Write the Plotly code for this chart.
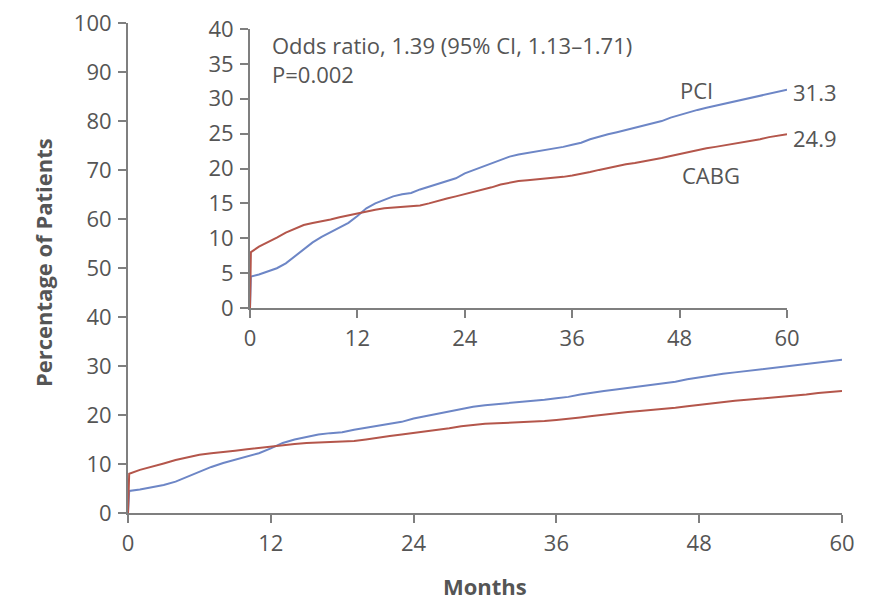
import plotly.graph_objects as go

# ---- data ----
months = [0, 0.1, 1, 2, 3, 4, 5, 6, 7, 8, 9, 10, 11, 12, 13, 14, 15, 16, 17, 18, 19, 20,
          21, 22, 23, 24, 25, 26, 27, 28, 29, 30, 31, 32, 33, 34, 35, 36, 37, 38, 39, 40,
          41, 42, 43, 44, 45, 46, 47, 48, 49, 50, 51, 52, 53, 54, 55, 56, 57, 58, 59, 60]
pci = [0, 4.5, 4.8, 5.2, 5.7, 6.4, 7.4, 8.3, 9.4, 10.2, 10.9, 11.5, 12.2, 13.2, 14.3, 15.0,
       15.5, 16.0, 16.3, 16.5, 17.0, 17.4, 17.8, 18.1, 18.6, 19.3, 19.8, 20.3, 20.8, 21.3,
       21.7, 22.0, 22.2, 22.4, 22.7, 22.9, 23.1, 23.4, 23.7, 24.2, 24.6, 24.9, 25.2, 25.5,
       25.8, 26.1, 26.4, 26.8, 27.3, 27.7, 28.1, 28.4, 28.7, 29.0, 29.3, 29.6, 29.9, 30.2,
       30.5, 30.8, 31.0, 31.3]
cabg = [0, 8.0, 8.8, 9.4, 10.1, 10.8, 11.4, 11.9, 12.2, 12.4, 12.7, 13.0, 13.3, 13.6, 13.9,
        14.1, 14.3, 14.4, 14.4, 14.5, 14.7, 15.0, 15.4, 15.7, 16.0, 16.3, 16.6, 16.9, 17.3,
        17.7, 18.0, 18.2, 18.3, 18.4, 18.5, 18.6, 18.8, 19.0, 19.2, 19.5, 19.8, 20.1, 20.4,
        20.6, 20.8, 21.0, 21.2, 21.5, 21.8, 22.1, 22.4, 22.7, 22.9, 23.1, 23.3, 23.5, 23.7,
        23.9, 24.2, 24.5, 24.7, 24.9]
x_ticks = [0, 12, 24, 36, 48, 60]
main_y_ticks = [0, 10, 20, 30, 40, 50, 60, 70, 80, 90, 100]
inset_y_ticks = [0, 5, 10, 15, 20, 25, 30, 35, 40]
pci_end_label = "31.3"
cabg_end_label = "24.9"

# page body has an 8px margin, so the figure is drawn 8px smaller and offset
OFF = 8
W, H = 871 - OFF, 601 - OFF
def px(x):
    return (x - OFF) / W
def py(y):
    return 1 - (y - OFF) / H

PCI_COLOR = "#6d86c6"
CABG_COLOR = "#b4564b"
AX_COLOR = "#7f7f7f"
TXT = "#555555"
FONT = "Open Sans"

fig = go.Figure()
for xa, ya in [("x", "y"), ("x2", "y2")]:
    fig.add_trace(go.Scatter(x=months, y=pci, mode="lines", xaxis=xa, yaxis=ya,
                             line=dict(color=PCI_COLOR, width=2), showlegend=False))
    fig.add_trace(go.Scatter(x=months, y=cabg, mode="lines", xaxis=xa, yaxis=ya,
                             line=dict(color=CABG_COLOR, width=2), showlegend=False))

ax_common = dict(showline=True, linecolor=AX_COLOR, linewidth=2, ticks="outside",
                 ticklen=8, tickwidth=2, tickcolor=AX_COLOR, showgrid=False,
                 zeroline=False, automargin=False, ticklabeloverflow="allow",
                 ticklabelstandoff=2,
                 tickfont=dict(family=FONT, size=22, color=TXT))

fig.update_layout(
    width=W, height=H, margin=dict(l=0, r=0, t=0, b=0),
    paper_bgcolor="white", plot_bgcolor="rgba(0,0,0,0)",
    xaxis=dict(domain=[px(128), px(842)], range=[0, 60], tickvals=x_ticks,
               anchor="y", **ax_common),
    yaxis=dict(domain=[py(513), py(23)], range=[0, 100], tickvals=main_y_ticks,
               anchor="x", **ax_common),
    xaxis2=dict(domain=[px(250), px(787)], range=[0, 60], tickvals=x_ticks,
                anchor="y2", **ax_common),
    yaxis2=dict(domain=[py(308), py(29)], range=[0, 40], tickvals=inset_y_ticks,
                anchor="x2", **ax_common),
)

def ann(text, x, y, size=22, bold=False, xanchor="center", angle=0):
    fig.add_annotation(text=f"<b>{text}</b>" if bold else text, x=px(x), y=py(y),
                       xref="paper", yref="paper", showarrow=False, xanchor=xanchor,
                       yanchor="middle", textangle=angle,
                       font=dict(family=FONT, size=size, color=TXT))

ann("Odds ratio, 1.39 (95% CI, 1.13–1.71)", 270, 45, size=22, xanchor="left")
ann("P=0.002", 270, 74, size=22, xanchor="left")
ann("PCI", 696, 90, size=22)
ann("CABG", 711, 175, size=22)
ann(pci_end_label, 815, 92, size=22)
ann(cabg_end_label, 815, 138, size=22)
ann("Percentage of Patients", 43, 263, size=22, bold=True, angle=-90)
ann("Months", 485, 586, size=22, bold=True)

fig.write_html("out.html")
